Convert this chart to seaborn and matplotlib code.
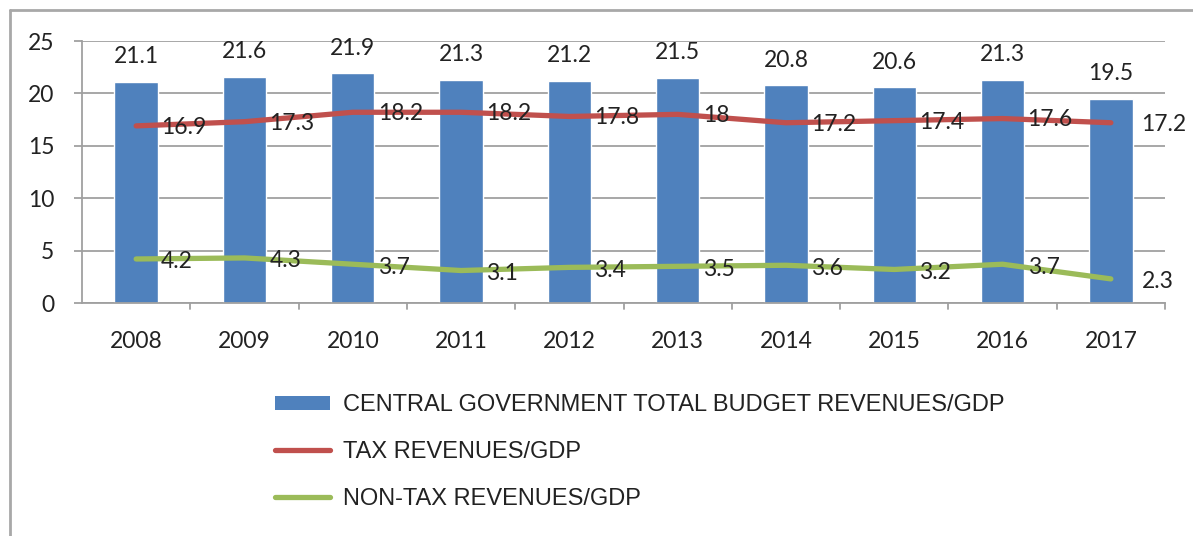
import numpy as np
import matplotlib
matplotlib.use("Agg")
import matplotlib.pyplot as plt
from matplotlib.lines import Line2D
from matplotlib.patches import Patch
import seaborn as sns

years = ["2008", "2009", "2010", "2011", "2012", "2013", "2014", "2015", "2016", "2017"]
total_revenues = [21.1, 21.6, 21.9, 21.3, 21.2, 21.5, 20.8, 20.6, 21.3, 19.5]
tax_revenues = [16.9, 17.3, 18.2, 18.2, 17.8, 18.0, 17.2, 17.4, 17.6, 17.2]
nontax_revenues = [4.2, 4.3, 3.7, 3.1, 3.4, 3.5, 3.6, 3.2, 3.7, 2.3]
y_ticks = [0, 5, 10, 15, 20, 25]

labels = ["CENTRAL GOVERNMENT TOTAL BUDGET REVENUES/GDP",
          "TAX REVENUES/GDP",
          "NON-TAX REVENUES/GDP"]

BLUE = "#4F81BD"
RED = "#C0504D"
GREEN = "#9BBB59"
GRID = "#a0a0a0"

sns.set_theme(style="white")
plt.rcParams["font.family"] = ["Lato", "DejaVu Sans"]

fig = plt.figure(figsize=(11.93, 5.36), dpi=100)
ax = fig.add_axes([82 / 1193, 1 - 303 / 536, (1165 - 82) / 1193, (303 - 41) / 536])

sns.barplot(x=years, y=total_revenues, color=BLUE, width=0.4, saturation=1,
            ax=ax, zorder=2)
pos = np.arange(len(years))
sns.lineplot(x=pos, y=tax_revenues, color=RED, linewidth=3.8, ax=ax, zorder=3)
sns.lineplot(x=pos, y=nontax_revenues, color=GREEN, linewidth=3.8, ax=ax, zorder=3)

fs = 16.5
for i, v in enumerate(total_revenues):
    ax.annotate(f"{v:g}", (i, v), xytext=(0, 18), textcoords="offset points",
                ha="center", va="center", fontsize=fs, color="#222222")
for i, v in enumerate(tax_revenues):
    ax.annotate(f"{v:g}", (i, v), xytext=(18 if i < 9 else 22, -1),
                textcoords="offset points", ha="left", va="center",
                fontsize=fs, color="#222222", zorder=4)
for i, v in enumerate(nontax_revenues):
    ax.annotate(f"{v:g}", (i, v), xytext=(18 if i < 9 else 22, -2),
                textcoords="offset points", ha="left", va="center",
                fontsize=fs, color="#222222", zorder=4)

ax.set_xlim(-0.5, len(years) - 0.5)
ax.set_ylim(0, 25)
ax.set_yticks(y_ticks)
ax.set_yticklabels([str(t) for t in y_ticks], fontsize=fs, color="#222222")
ax.tick_params(axis="x", labelsize=fs, colors="#222222", length=0, pad=20)
ax.tick_params(axis="y", length=6, width=1.3, color=GRID, pad=14, direction="out", left=True)
ax.set_xlabel("")
ax.set_ylabel("")

ax.yaxis.grid(True, color=GRID, linewidth=1.3)
ax.set_axisbelow(True)
for side in ["top", "right"]:
    ax.spines[side].set_visible(False)
ax.spines["left"].set_color(GRID)
ax.spines["left"].set_linewidth(1.3)
ax.spines["bottom"].set_color(GRID)
ax.spines["bottom"].set_linewidth(1.3)

# tick marks between categories on the x axis
for b in np.arange(0.5, len(years) - 0.5 + 1e-9, 1.0):
    ax.plot([b, b], [0, -0.6], color=GRID, linewidth=1.3, clip_on=False, zorder=1)

handles = [Patch(facecolor=BLUE, edgecolor="none"),
           Line2D([0], [0], color=RED, linewidth=3.8),
           Line2D([0], [0], color=GREEN, linewidth=3.8)]
fig.legend(handles, labels, loc="upper left", bbox_to_anchor=(254 / 1193, 1 - 373 / 536),
           frameon=False, prop={"family": "Liberation Sans", "size": 17},
           handlelength=2.3, handleheight=0.5, handletextpad=0.55, labelspacing=1.05,
           labelcolor="#222222")

# outer frame
fig.add_artist(Line2D([10 / 1193, 10 / 1193], [0, 1 - 10 / 536], transform=fig.transFigure,
                      color="#a8a8a8", linewidth=2))
fig.add_artist(Line2D([10 / 1193, 1], [1 - 10 / 536, 1 - 10 / 536], transform=fig.transFigure,
                      color="#a8a8a8", linewidth=2))

fig.savefig("out.png", dpi=100, facecolor="white")
